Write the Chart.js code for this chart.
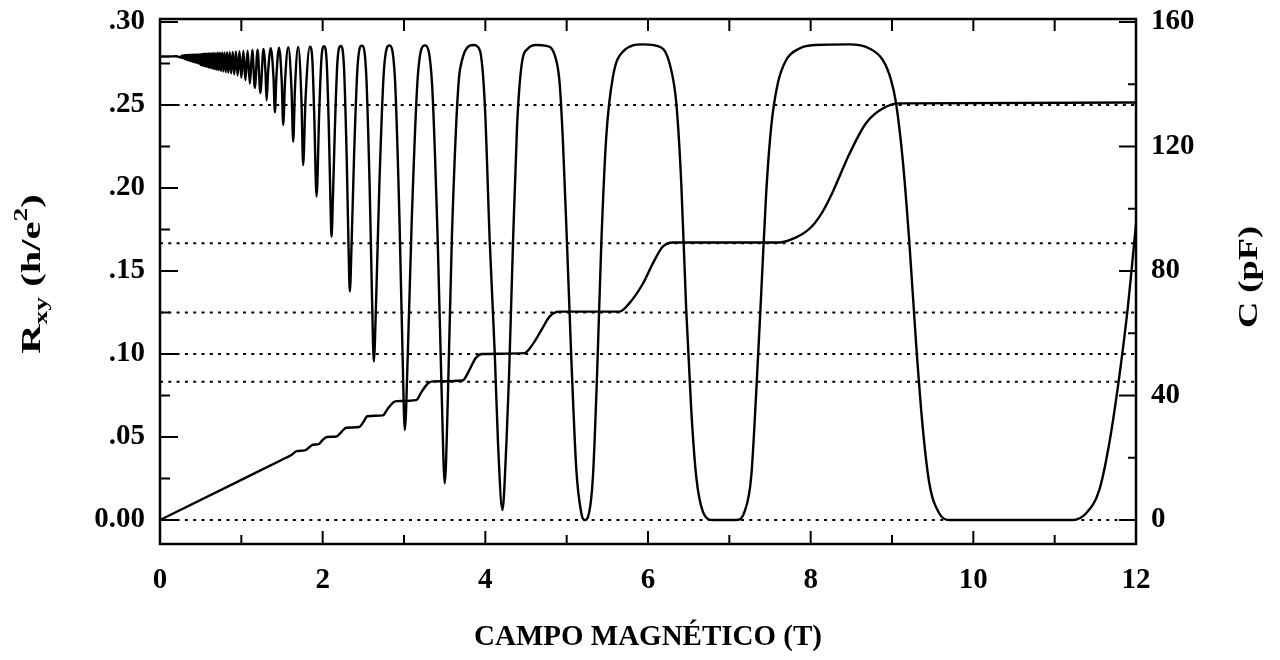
<!DOCTYPE html>
<html><head><meta charset="utf-8">
<script src="https://cdn.jsdelivr.net/npm/chart.js@4.4.1/dist/chart.umd.min.js"></script>
<style>html,body{margin:0;padding:0;background:#fff;}canvas{display:block;}</style>
</head><body>
<canvas id="c" width="1280" height="660"></canvas>
<script>
// ---------- data ----------
const fieldTicks = [0, 2, 4, 6, 8, 10, 12];
const fieldTickLabels = ['0', '2', '4', '6', '8', '10', '12'];
const fieldMinorTicks = [1, 3, 5, 7, 9, 11];
const rxyTicks = [0, 0.05, 0.10, 0.15, 0.20, 0.25, 0.30];
const rxyTickLabels = ['0.00', '.05', '.10', '.15', '.20', '.25', '.30'];
const rxyMinorTicks = [0.025, 0.075, 0.125, 0.175, 0.225, 0.275];
const capTicks = [0, 40, 80, 120, 160];
const capTickLabels = ['0', '40', '80', '120', '160'];
const capMinorTicks = [20, 60, 100, 140];
const quantumLevels = [0, 0.0833, 0.1, 0.125, 0.1667, 0.25];

// Hall resistance R_xy (h/e^2) vs field (T)
const rxyField = [0, 1.00, 1.50, 1.62, 1.68, 1.78, 1.84, 1.88, 1.95, 2.00,
  2.05, 2.17, 2.23, 2.29, 2.45, 2.50, 2.55, 2.74, 2.80, 2.88,
  2.92, 3.15, 3.22, 3.30, 3.36, 3.72, 3.80, 3.88, 3.96, 4.48,
  4.59, 4.69, 4.79, 4.91, 5.65, 5.77, 5.94, 6.06, 6.18, 6.31,
  7.62, 7.82, 7.95, 8.05, 8.15, 8.27, 8.48, 8.68, 8.89, 9.09, 12.0];
const rxyValue = [0, 0.0242, 0.0363, 0.0393, 0.0415, 0.0419, 0.0440, 0.0453, 0.0457, 0.0482,
  0.0500, 0.0503, 0.0530, 0.0556, 0.0560, 0.0590, 0.0625, 0.0630, 0.0670, 0.0712,
  0.0716, 0.0722, 0.0775, 0.0825, 0.0835, 0.0840, 0.0900, 0.0975, 0.1000, 0.1005,
  0.1064, 0.1145, 0.1225, 0.1255, 0.1255, 0.1305, 0.1426, 0.1546, 0.1646, 0.1672,
  0.1672, 0.1702, 0.1740, 0.1788, 0.1860, 0.1975, 0.2209, 0.2390, 0.2480, 0.2510, 0.2515];

// Capacitance C (pF) vs field (T)
const capField = [0, 0.10, 0.20, 0.26, 0.265, 0.27, 0.275, 0.28, 0.285, 0.29,
  0.295, 0.300, 0.305, 0.309, 0.314, 0.319, 0.324, 0.329, 0.334, 0.339,
  0.345, 0.351, 0.357, 0.363, 0.369, 0.376, 0.382, 0.389, 0.397, 0.404,
  0.412, 0.421, 0.429, 0.438, 0.447, 0.457, 0.467, 0.478, 0.489, 0.501,
  0.507, 0.513, 0.519, 0.526, 0.532, 0.539, 0.546, 0.553, 0.560, 0.568,
  0.576, 0.584, 0.592, 0.600, 0.609, 0.618, 0.627, 0.637, 0.647, 0.657,
  0.667, 0.678, 0.689, 0.700, 0.712, 0.724, 0.737, 0.750, 0.764, 0.778,
  0.793, 0.808, 0.824, 0.840, 0.857, 0.875, 0.894, 0.913, 0.933, 0.954,
  0.977, 1.000, 1.025, 1.050, 1.077, 1.105, 1.135, 1.166, 1.200, 1.234,
  1.272, 1.297, 1.311, 1.329, 1.362, 1.395, 1.413, 1.431, 1.464, 1.497,
  1.515, 1.537, 1.577, 1.617, 1.638, 1.659, 1.699, 1.739, 1.760, 1.789,
  1.843, 1.872, 1.896, 1.925, 1.957, 1.985, 2.017, 2.049, 2.077, 2.095,
  2.109, 2.126, 2.149, 2.182, 2.222, 2.261, 2.295, 2.317, 2.334, 2.356,
  2.386, 2.430, 2.482, 2.533, 2.578, 2.607, 2.629, 2.658, 2.696, 2.753,
  2.820, 2.887, 2.944, 2.982, 3.010, 3.047, 3.096, 3.170, 3.256, 3.342,
  3.415, 3.464, 3.501, 3.540, 3.590, 3.690, 3.855, 3.931, 3.993, 4.054,
  4.115, 4.156, 4.210, 4.259, 4.291, 4.341, 4.390, 4.443, 4.525, 4.627,
  4.750, 4.853, 4.914, 4.955, 5.004, 5.058, 5.119, 5.181, 5.221, 5.274,
  5.323, 5.373, 5.426, 5.487, 5.569, 5.692, 5.938, 6.163, 6.265, 6.348,
  6.409, 6.470, 6.532, 6.593, 6.675, 6.798, 7.085, 7.187, 7.269, 7.330,
  7.392, 7.453, 7.515, 7.596, 7.699, 7.862, 8.050, 8.477, 8.722, 8.886,
  8.988, 9.050, 9.132, 9.214, 9.296, 9.377, 9.459, 9.582, 9.705, 11.220,
  11.384, 11.548, 11.671, 11.794, 11.896, 12.000];
const capValue = [148.9, 148.9, 149.0, 148.6, 149.2, 148.5, 149.2, 148.4, 149.2, 148.3,
  149.3, 148.2, 149.3, 148.1, 149.3, 148.0, 149.3, 147.9, 149.4, 147.8,
  149.4, 147.7, 149.4, 147.6, 149.4, 147.5, 149.5, 147.4, 149.5, 147.2,
  149.5, 147.1, 149.5, 147.0, 149.6, 146.8, 149.6, 146.6, 149.6, 146.2,
  149.7, 146.1, 149.7, 146.0, 149.7, 145.9, 149.8, 145.8, 149.8, 145.7,
  149.8, 145.6, 149.9, 145.4, 149.9, 145.3, 149.9, 145.1, 150.0, 145.0,
  150.0, 144.8, 150.0, 144.6, 150.1, 144.5, 150.1, 144.3, 150.2, 144.1,
  150.2, 143.9, 150.3, 143.7, 150.3, 143.5, 150.4, 143.2, 150.5, 142.8,
  150.6, 142.1, 150.7, 141.3, 150.8, 140.2, 151.0, 138.8, 151.1, 137.2,
  151.3, 143.9, 134.8, 143.9, 151.6, 142.4, 131.0, 142.4, 151.7, 140.7,
  126.9, 140.7, 151.9, 138.3, 121.5, 138.3, 152.0, 135.0, 114.0, 135.0,
  152.1, 148.3, 130.5, 103.9, 130.5, 148.3, 152.2, 147.4, 124.7, 103.3,
  91.0, 103.3, 124.7, 147.4, 152.3, 146.1, 116.9, 89.2, 73.4, 89.2,
  116.9, 146.1, 152.4, 144.4, 106.8, 71.2, 50.9, 71.2, 106.8, 144.4,
  152.5, 142.6, 96.9, 53.6, 28.9, 53.6, 96.9, 142.6, 152.5, 141.3,
  89.2, 40.0, 11.8, 40.0, 92.0, 145.0, 152.6, 151.0, 133.9, 89.6,
  54.1, 24.6, 3.2, 24.6, 46.0, 89.6, 126.4, 145.6, 151.5, 152.6,
  152.3, 149.4, 140.3, 121.0, 88.9, 51.4, 16.1, 2.1, 0, 2.1,
  13.9, 46.0, 88.9, 123.2, 142.4, 150.5, 152.8, 151.8, 146.7, 133.9,
  108.2, 67.5, 35.3, 13.9, 2.7, 0, 0, 2.7, 13.9, 40.7,
  72.8, 105.0, 126.4, 140.3, 147.8, 151.5, 152.6, 152.8, 151.5, 147.8,
  141.4, 133.9, 115.7, 88.9, 56.8, 30.0, 11.8, 2.1, 0, 0,
  2.1, 9.6, 24.6, 46.0, 67.5, 95.0];

// ---------- chart ----------
Chart.defaults.font.family = "'Liberation Serif', 'Times New Roman', serif";
Chart.defaults.color = '#000';
const FONT = "'Liberation Serif', 'Times New Roman', serif";

const framePlugin = {
  id: 'frame',
  afterDatasetsDraw(chart) {
    const {ctx, chartArea: a, scales: {x, y, y1}} = chart;
    ctx.save();
    ctx.strokeStyle = '#000';
    ctx.lineWidth = 2.5;
    ctx.strokeRect(a.left, a.top, a.right - a.left, a.bottom - a.top);
    ctx.lineWidth = 2;
    ctx.beginPath();
    fieldTicks.concat(fieldMinorTicks).forEach(v => {
      const px = x.getPixelForValue(v);
      if (v === 0 || v === 12) return;
      ctx.moveTo(px, a.top); ctx.lineTo(px, a.top + 12);
      const len = fieldTicks.includes(v) ? 13 : 9;
      ctx.moveTo(px, a.bottom); ctx.lineTo(px, a.bottom - len);
    });
    rxyTicks.forEach(v => { const py = y.getPixelForValue(v); ctx.moveTo(a.left, py); ctx.lineTo(a.left + 18, py); });
    rxyMinorTicks.forEach(v => { const py = y.getPixelForValue(v); ctx.moveTo(a.left, py); ctx.lineTo(a.left + 10, py); });
    capTicks.forEach(v => { const py = y1.getPixelForValue(v); ctx.moveTo(a.right, py); ctx.lineTo(a.right - 17, py); });
    capMinorTicks.forEach(v => { const py = y1.getPixelForValue(v); ctx.moveTo(a.right, py); ctx.lineTo(a.right - 8, py); });
    ctx.stroke();

    // left axis title: R_xy (h/e^2)
    ctx.fillStyle = '#000';
    ctx.textBaseline = 'alphabetic';
    const big = 'bold 28px ' + FONT, small = 'bold 19px ' + FONT;
    const parts = [['R', big, 10], ['xy', small, 17], [' (h/e', big, 10], ['2', small, -3], [')', big, 10]];
    ctx.save();
    ctx.translate(30, 274);
    ctx.rotate(-Math.PI / 2);
    ctx.scale(1.45, 1);
    let total = 0;
    parts.forEach(p => { ctx.font = p[1]; total += ctx.measureText(p[0]).width; });
    let cx = -total / 2;
    parts.forEach(p => { ctx.font = p[1]; ctx.fillText(p[0], cx, p[2]); cx += ctx.measureText(p[0]).width; });
    ctx.restore();

    // right axis title: C (pF)
    ctx.save();
    ctx.translate(1247, 277);
    ctx.rotate(-Math.PI / 2);
    ctx.scale(1.3, 1);
    ctx.font = big;
    ctx.textAlign = 'center';
    ctx.fillText('C (pF)', 0, 10);
    ctx.restore();
    ctx.restore();
  }
};

const toPts = (xs, ys) => xs.map((b, i) => ({x: b, y: ys[i]}));

const datasets = [
  {label: 'C (pF)', yAxisID: 'y1', data: toPts(capField, capValue), borderColor: '#000',
   borderWidth: 2.4, pointRadius: 0, cubicInterpolationMode: 'monotone', fill: false},
  {label: 'Rxy (h/e2)', yAxisID: 'y', data: toPts(rxyField, rxyValue), borderColor: '#000',
   borderWidth: 2.4, pointRadius: 0, cubicInterpolationMode: 'monotone', fill: false}
].concat(quantumLevels.map(v => ({
  label: 'level ' + v, yAxisID: 'y', data: [{x: 0, y: v}, {x: 12, y: v}],
  borderColor: '#000', borderWidth: 2, borderDash: [3, 5.3], pointRadius: 0, tension: 0, fill: false
})));

const tickFont = {size: 29, weight: 'bold', family: FONT};
const noPad = s => { s.paddingTop = 0; s.paddingBottom = 0; };

new Chart(document.getElementById('c'), {
  type: 'line',
  data: {datasets},
  options: {
    responsive: false,
    animation: false,
    devicePixelRatio: 1,
    layout: {padding: {top: 19, left: 0, right: 0, bottom: 0}},
    plugins: {legend: {display: false}, tooltip: {enabled: false}},
    scales: {
      x: {
        type: 'linear', position: 'bottom', min: 0, max: 12,
        afterBuildTicks: s => { s.ticks = fieldTicks.map(v => ({value: v})); },
        afterFit: s => { s.height = 116; s.paddingLeft = 0; s.paddingRight = 0; },
        grid: {display: false, drawTicks: false}, border: {display: false},
        ticks: {padding: 19, color: '#000', font: tickFont, autoSkip: false, maxRotation: 0,
                callback: (v, i) => fieldTickLabels[i]},
        title: {display: true, text: 'CAMPO MAGNÉTICO (T)', color: '#000',
                font: {size: 29, weight: 'bold', family: FONT}, padding: {top: 0, bottom: 5}}
      },
      y: {
        type: 'linear', position: 'left', min: -0.01446, max: 0.3018,
        afterBuildTicks: s => { s.ticks = rxyTicks.map(v => ({value: v})); },
        afterFit: s => { s.width = 160; noPad(s); },
        grid: {display: false, drawTicks: false}, border: {display: false},
        ticks: {padding: 15, color: '#000', font: tickFont, autoSkip: false,
                callback: (v, i) => rxyTickLabels[i]}
      },
      y1: {
        type: 'linear', position: 'right', min: -7.71, max: 160.96,
        afterBuildTicks: s => { s.ticks = capTicks.map(v => ({value: v})); },
        afterFit: s => { s.width = 144; noPad(s); },
        grid: {display: false, drawTicks: false}, border: {display: false},
        ticks: {padding: 15, color: '#000', font: tickFont, autoSkip: false,
                callback: (v, i) => capTickLabels[i]}
      }
    }
  },
  plugins: [framePlugin]
});
</script>
</body></html>
